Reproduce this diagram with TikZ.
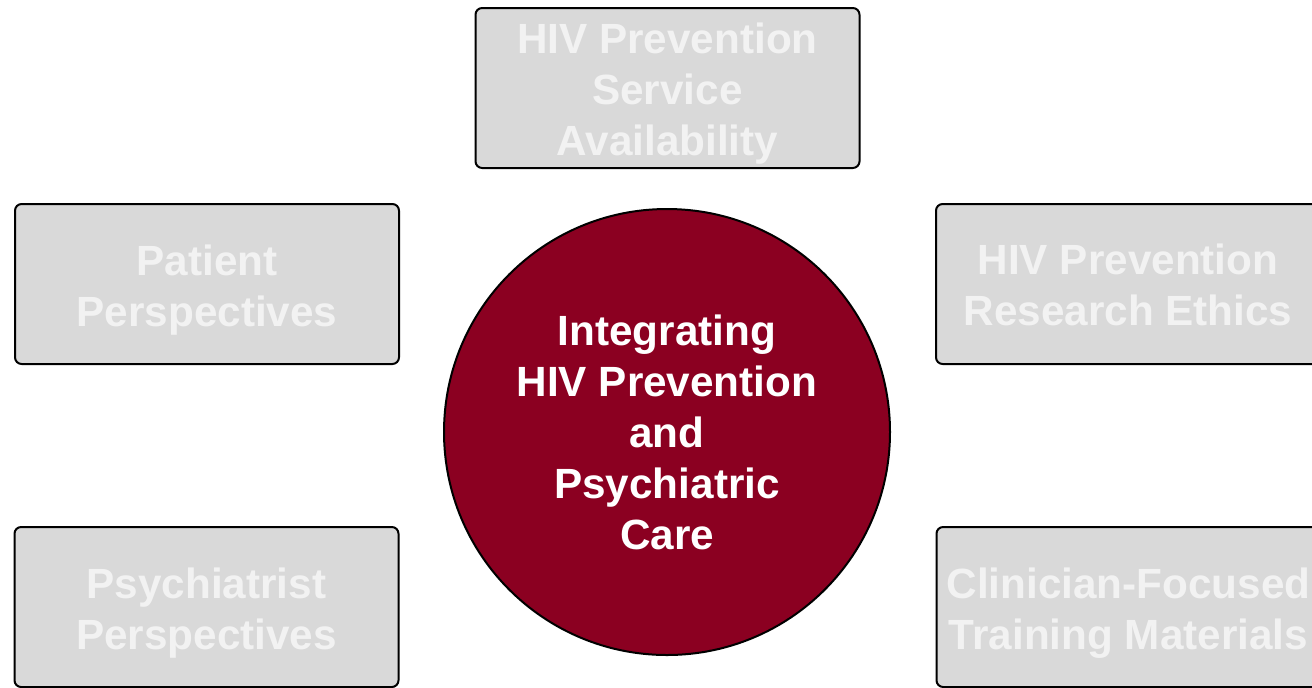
\documentclass[tikz,border=0pt]{standalone}
\usepackage{fontspec}
\setmainfont{Liberation Sans}
\definecolor{boxgray}{HTML}{D9D9D9}
\definecolor{boxtext}{HTML}{F2F2F2}
\definecolor{wine}{HTML}{8B0021}
\begin{document}
\begin{tikzpicture}[x=0.75pt,y=-0.75pt,
  topicbox/.style={draw=black, line width=1.5pt, fill=boxgray, rounded corners=5pt,
    minimum width=288pt, minimum height=120pt, inner sep=0pt},
  topictext/.style={inner sep=0pt, align=center, yshift=-4.5pt,
    text=boxtext, font={\fontsize{31.7}{38.25}\selectfont\bfseries}},
  hub/.style={circle, draw=black, line width=1.5pt, fill=wine, minimum size=334.5pt,
    inner sep=0pt, align=center, text=white,
    font={\fontsize{31.7}{38.25}\selectfont\bfseries}}]
\useasboundingbox (0,0) rectangle (1312,687);
\clip (0,0) rectangle (1312,687);
\node[hub] (c) at (667,432) {Integrating\\HIV Prevention\\and\\Psychiatric\\Care};
\node[topicbox, label={[topictext]center:{HIV Prevention\\Service\\Availability}}] (t) at (667.5,88) {};
\node[topicbox, label={[topictext]center:{Patient\\Perspectives}}] (pl) at (207,284) {};
\node[topicbox, label={[topictext]center:{Psychiatrist\\Perspectives}}] (ps) at (206.5,607) {};
\node[topicbox, label={[topictext, yshift=4pt]center:{HIV Prevention\\Research Ethics}}] (re) at (1128,284) {};
\node[topicbox, label={[topictext]center:{Clinician-Focused\\Training Materials}}] (cf) at (1128.5,607) {};
\end{tikzpicture}
\end{document}
